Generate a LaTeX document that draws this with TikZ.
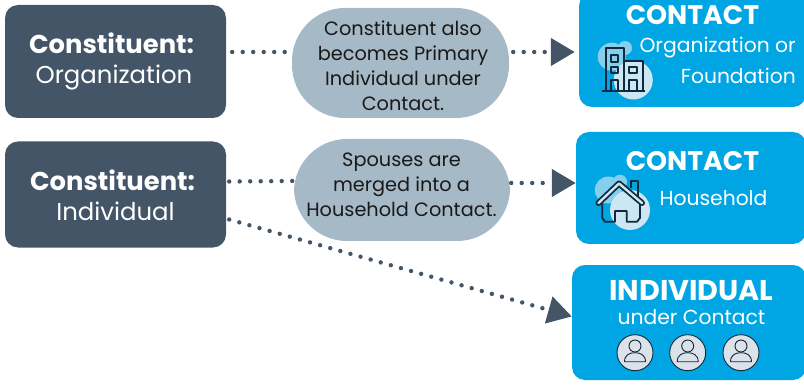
\documentclass[tikz,border=0pt]{standalone}
\usepackage{fontspec}
\setmainfont{Poppins}
\usetikzlibrary{arrows.meta,calc}
\definecolor{slatebox}{HTML}{445568}
\definecolor{bubblegrey}{HTML}{A5B9C6}
\definecolor{contactblue}{HTML}{00A5E3}
\definecolor{blobmid}{HTML}{86CFEC}
\definecolor{bloblight}{HTML}{CDE6F3}
\definecolor{icondark}{HTML}{10293C}
\definecolor{personfill}{HTML}{DCE2E9}
\tikzset{
	slatenode/.style={fill=slatebox, rounded corners=13pt, text=white, align=center, inner sep=0pt, font=\fontsize{24.4}{31}\selectfont},
	bubblenode/.style={fill=bubblegrey, rounded corners=53pt, inner sep=0pt},
	bubbletext/.style={text=black!90, align=center, inner sep=0pt, font=\fontsize{19.3}{25}\selectfont},
	contactnode/.style={fill=contactblue, rounded corners=13pt, inner sep=0pt},
	headtext/.style={text=white, inner sep=0pt, font=\fontsize{26.8}{30}\bfseries\selectfont},
	subtext/.style={text=white, inner sep=0pt, font=\fontsize{20.3}{30}\selectfont},
	personnode/.style={circle, draw=icondark, fill=personfill, line width=0.9pt, minimum size=36pt, inner sep=0pt},
	dotline/.style={color=slatebox, line width=4.4pt, line cap=round, dash pattern=on 0pt off 10.5pt},
	dotarrow/.style={dotline, -{Triangle[length=24pt,width=27pt]}},
	iconline/.style={draw=icondark, line width=1.8pt, line join=round}
}
\def\personmark(#1){
	\draw[icondark, line width=0.9pt] ($(#1)+(0,-6.7)$) circle (6);
	\draw[icondark, line width=0.9pt] ($(#1)+(-10.5,9)$) .. controls ($(#1)+(-10.5,2)$) and ($(#1)+(-5,0)$) .. ($(#1)+(0,0)$) .. controls ($(#1)+(5,0)$) and ($(#1)+(10.5,2)$) .. ($(#1)+(10.5,9)$) -- cycle;
}
\begin{document}
\begin{tikzpicture}[x=1pt, y=-1pt]
	\useasboundingbox (0,0) rectangle (804,385);
	
	%%%%% boxes %%%%%
	\node[slatenode, minimum width=221pt, minimum height=113pt] (organization) at (115.5,61.5) {};
	\node[slatenode, minimum width=221pt, minimum height=106pt] (individual) at (115.5,194.5) {};
	\node[slatenode, font=\fontsize{25.8}{31}\bfseries\selectfont] (organizationhead) at (111.5,43) {Constituent:};
	\node[slatenode] (organizationline) at (114,78) {Organization};
	\node[slatenode, font=\fontsize{25.8}{31}\bfseries\selectfont] (individualhead) at (112.5,180) {Constituent:};
	\node[slatenode] (individualline) at (115.5,211) {Individual};
	
	\node[bubblenode, minimum width=217pt, minimum height=110pt] (primary) at (400.5,63) {};
	\node[bubblenode, minimum width=216pt, minimum height=102pt] (spouses) at (402,190) {};
	\node[bubbletext] (primarytext) at (403,66) {Constituent also\\becomes Primary\\Individual under\\Contact.};
	\node[bubbletext] (spousestext) at (401.5,185) {Spouses are\\merged into a\\Household Contact.};
	
	\node[contactnode, minimum width=227pt, minimum height=114pt] (contactorg) at (692.5,50) {};
	\node[contactnode, minimum width=230pt, minimum height=112pt] (contacthome) at (691,188) {};
	\node[contactnode, minimum width=234pt, minimum height=115pt] (contactind) at (689,322.5) {};
	
	%%%%% building icon %%%%%
	\fill[blobmid] (611.7,56.7) circle (14);
	\fill[blobmid] (625,48) circle (7);
	\fill[bloblight] (633.3,80) circle (19.5);
	\draw[iconline] (605.7,90.7) -- (605.7,48.3) -- (624,48.3) -- (624,90.7);
	\draw[iconline] (624,60.7) -- (642.7,60.7) -- (642.7,90.7);
	\draw[iconline] (602.3,90.7) -- (645,90.7);
	\draw[iconline] (610.7,55) rectangle (618.3,61.7);
	\draw[iconline] (610.7,66.7) rectangle (618.3,73.3);
	\draw[iconline] (610.7,90.7) -- (610.7,80) -- (618.3,80) -- (618.3,90.7);
	\draw[iconline] (629.3,66.7) rectangle (636.7,73.3);
	\draw[iconline] (629.3,90.7) -- (629.3,80) -- (636.7,80) -- (636.7,90.7);
	
	%%%%% house icon %%%%%
	\fill[blobmid] (608.3,190) circle (13.5);
	\fill[blobmid] (620,181.7) circle (7);
	\fill[bloblight] (630,210) circle (20);
	\draw[iconline] (631,188) -- (631,181) -- (637.7,181) -- (637.7,197);
	\draw[iconline] (602.3,204) -- (602.3,218) -- (605,221.7) -- (615,221.7) -- (615,211) -- (626.7,211) -- (626.7,221.7) -- (637,221.7) -- (640,218) -- (640,204);
	\draw[icondark, line width=6pt, line join=round, line cap=round] (598.5,203) -- (619,183.5) -- (642,203);
	\draw[bloblight, line width=2.4pt, line join=round, line cap=round] (598.5,203) -- (619,183.5) -- (642,203);
	
	%%%%% box texts %%%%%
	\node[headtext] (contactorghead) at (692.5,15) {CONTACT};
	\node[subtext, anchor=east] (contactorgline) at (796,48) {Organization or};
	\node[subtext, anchor=east] (contactorgfound) at (796,76) {Foundation};
	\node[headtext] (contacthomehead) at (692.5,161) {CONTACT};
	\node[subtext] (contacthomeline) at (713.5,198) {Household};
	\node[headtext, font=\fontsize{28.6}{30}\bfseries\selectfont] (contactindhead) at (691.5,291) {INDIVIDUAL};
	\node[subtext] (contactindline) at (691.5,317) {under Contact};
	
	%%%%% persons %%%%%
	\node[personnode] (personone) at (635,352.7) {};
	\node[personnode] (persontwo) at (687.7,352.7) {};
	\node[personnode] (personthree) at (741,352.7) {};
	\personmark(personone)
	\personmark(persontwo)
	\personmark(personthree)
	
	%%%%% connectors %%%%%
	\draw[dotline] ([xshift=6pt,yshift=9.5pt]organization.east) -- ([xshift=-3pt,yshift=11pt]primary.west);
	\draw[dotarrow] ([xshift=4pt,yshift=11pt]primary.east) -- ([xshift=-4pt,yshift=-2pt]contactorg.west);
	\draw[dotline] ([xshift=3pt,yshift=13pt]individual.east) -- ([xshift=-1pt,yshift=9pt]spouses.west);
	\draw[dotarrow] ([xshift=1pt,yshift=7pt]spouses.east) -- ([yshift=5pt]contacthome.west);
	\draw[dotarrow] ([xshift=3pt,yshift=-25pt]individual.east) -- ([yshift=6pt]contactind.west);
\end{tikzpicture}
\end{document}
